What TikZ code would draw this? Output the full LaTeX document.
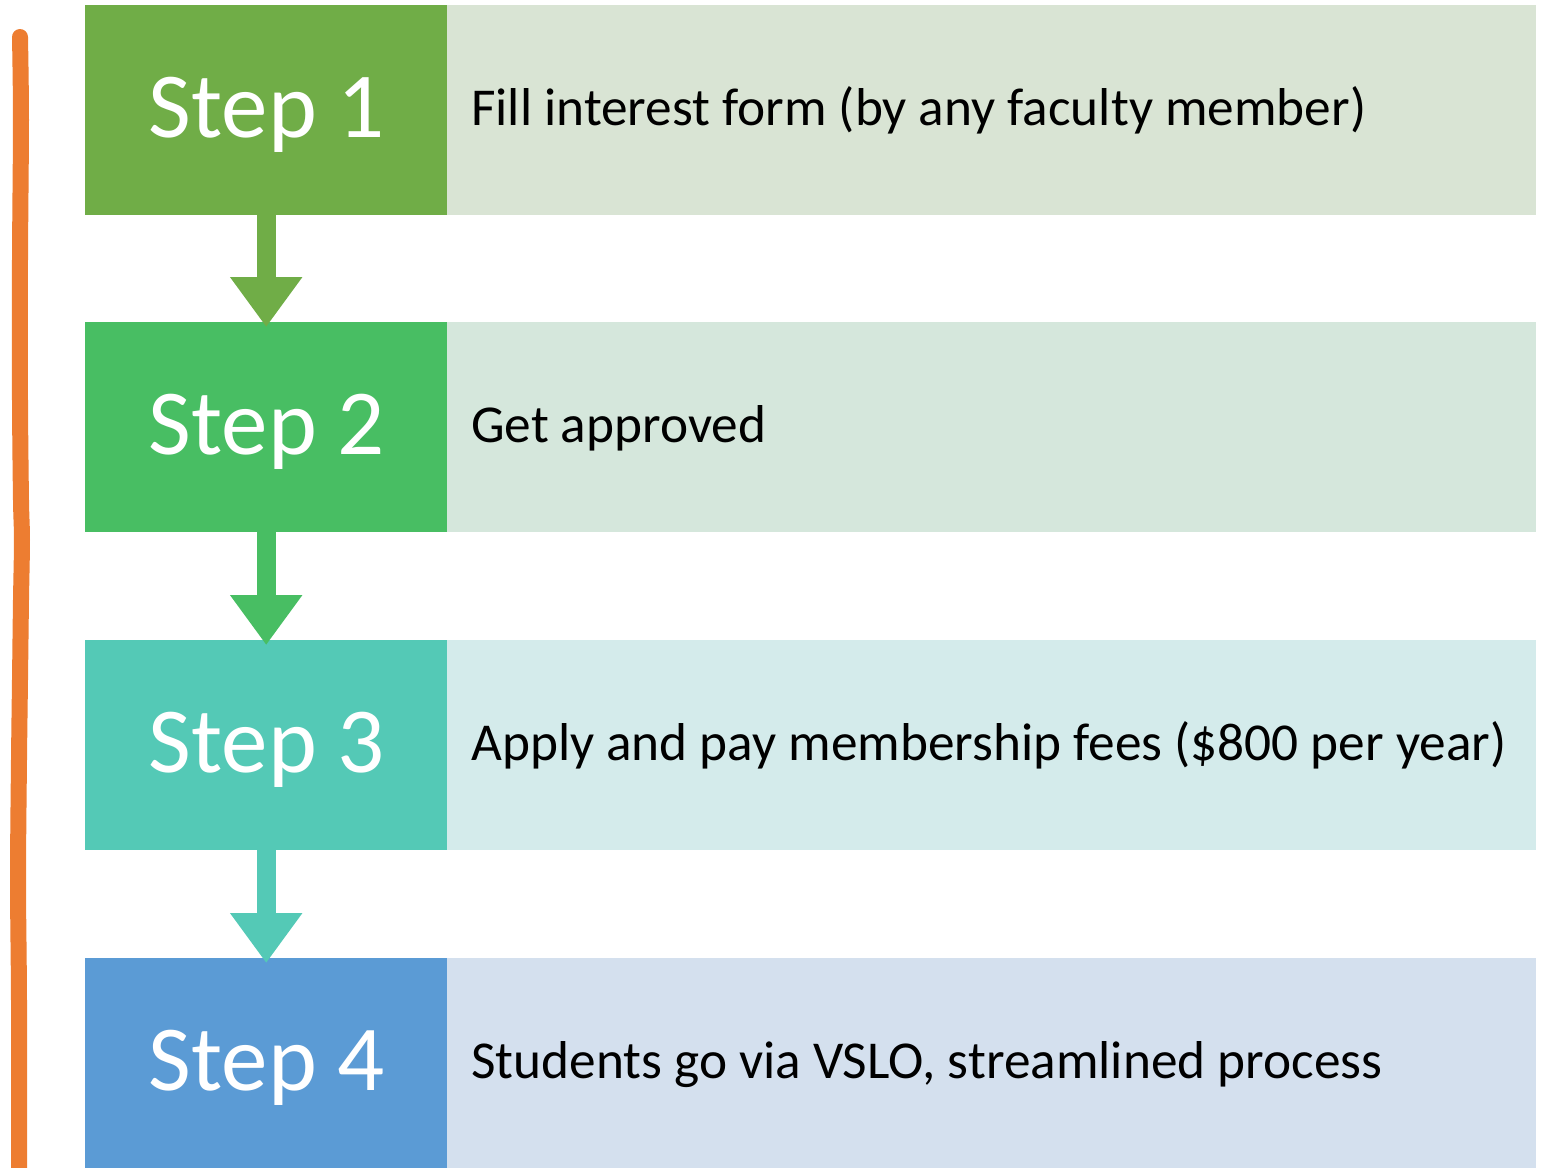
\documentclass[tikz,border=0pt]{standalone}
\usepackage{fontspec}
\setmainfont{Carlito}
\usetikzlibrary{arrows.meta}
\definecolor{cA}{HTML}{70AD47}
\definecolor{cB}{HTML}{48BE63}
\definecolor{cC}{HTML}{54C9B6}
\definecolor{cD}{HTML}{5B9BD5}
\definecolor{lA}{HTML}{D9E4D4}
\definecolor{lB}{HTML}{D5E7DC}
\definecolor{lC}{HTML}{D4EBEB}
\definecolor{lD}{HTML}{D4E0EE}
\definecolor{brace}{HTML}{ED7D31}
\tikzset{
  stepbox/.style={rectangle, inner sep=0pt, minimum width=362bp, minimum height=210bp, anchor=north west},
  descbox/.style={rectangle, inner sep=0pt, minimum width=1089bp, minimum height=210bp, anchor=north west},
  steptext/.style={inner sep=0pt, anchor=base, text=white, font=\fontsize{93bp}{93bp}\selectfont},
  desctext/.style={inner sep=0pt, anchor=base west, text=black, font=\fontsize{53.3bp}{53.3bp}\selectfont},
  flow/.style={line width=19bp, -{Triangle[width=69bp,length=50bp]}, shorten >=-5bp}
}
\begin{document}
\begin{tikzpicture}[x=1bp,y=-1bp]
\useasboundingbox (0,0) rectangle (1547,1167);
% boxes
\node[stepbox, fill=cA] (s1) at (85,5) {};
\node[descbox, fill=lA] (d1) at (447,5) {};
\node[stepbox, fill=cB] (s2) at (85,322) {};
\node[descbox, fill=lB] (d2) at (447,322) {};
\node[stepbox, fill=cC] (s3) at (85,640) {};
\node[descbox, fill=lC] (d3) at (447,640) {};
\node[stepbox, fill=cD] (s4) at (85,958) {};
\node[descbox, fill=lD] (d4) at (447,958) {};
% texts
\node[steptext] (t1) at (267,137) {Step 1};
\node[steptext] (t2) at (267,454) {Step 2};
\node[steptext] (t3) at (267,772) {Step 3};
\node[steptext] (t4) at (267,1090) {Step 4};
\node[desctext] (e1) at (471,125) {Fill interest form (by any faculty member)};
\node[desctext] (e2) at (471,442) {Get approved};
\node[desctext] (e3) at (471,760) {Apply and pay membership fees (\$800 per year)};
\node[desctext] (e4) at (471,1078) {Students go via VSLO, streamlined process};
% arrows
\draw[flow, cA] (s1.south) -- (s2.north);
\draw[flow, cB] (s2.south) -- (s3.north);
\draw[flow, cC] (s3.south) -- (s4.north);
% orange line
\draw[brace, line width=16bp, line cap=round] plot[smooth, tension=0.5] coordinates {
  (20,37) (21,120) (20,260) (20,400) (21,500) (22,540) (21,600) (20,680) (19,760) (18,880) (19,1000) (19,1170)};
\end{tikzpicture}
\end{document}
